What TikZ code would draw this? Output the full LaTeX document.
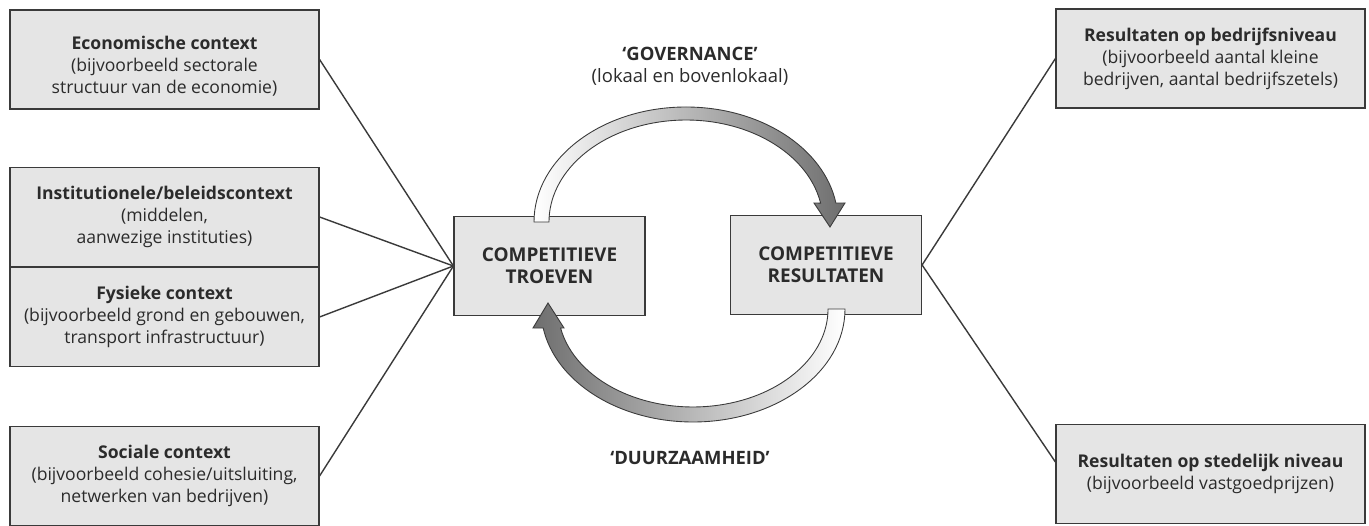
\documentclass[tikz,border=0pt]{standalone}
\usepackage{fontspec}
\setmainfont{Open Sans}
\usetikzlibrary{positioning}
\definecolor{boxgrey}{HTML}{E5E5E5}
\definecolor{linegrey}{HTML}{3A3A3A}
\definecolor{inkgrey}{HTML}{2B2B2B}
\definecolor{headgrey}{HTML}{6E6E6E}

\tikzset{
  ctxbox/.style={draw=linegrey, line width=0.7pt, fill=boxgrey, text=inkgrey,
    minimum width=6.18cm, minimum height=1.98cm, inner sep=0pt, align=center,
    font=\fontsize{10}{12.5}\selectfont},
  corebox/.style={ctxbox, minimum width=3.82cm, minimum height=1.98cm,
    font=\fontsize{10.8}{12.5}\selectfont\bfseries},
  link/.style={draw=linegrey, line width=0.8pt},
  loopshape/.style={draw=linegrey, line width=0.5pt},
  tag/.style={text=inkgrey, align=center, font=\fontsize{10.5}{12.5}\selectfont}
}

\begin{document}
\begin{tikzpicture}[x=0.02cm, y=-0.02cm]
  \useasboundingbox (0,0) rectangle (1369,526);

  % contexten links
  \node[ctxbox, text height=40.5pt] (eco) at (164.5,59.5) {\textbf{Economische context}\\(bijvoorbeeld sectorale\\structuur van de economie)};
  \node[ctxbox] (inst) at (164.5,217) {\textbf{Institutionele/beleidscontext}\\(middelen,\\aanwezige instituties)};
  \node[ctxbox] (fys) at (164.5,317) {\textbf{Fysieke context}\\(bijvoorbeeld grond en gebouwen,\\transport infrastructuur)};
  \node[ctxbox] (soc) at (164.5,476) {\textbf{Sociale context}\\(bijvoorbeeld cohesie/uitsluiting,\\netwerken van bedrijven)};

  % kern
  \node[corebox] (troef) at (549.5,266) {COMPETITIEVE\\TROEVEN};
  \node[corebox] (resul) at (826,265) {COMPETITIEVE\\RESULTATEN};

  % resultaten rechts
  \node[ctxbox] (bedr) at (1210.5,58.5) {\textbf{Resultaten op bedrijfsniveau}\\(bijvoorbeeld aantal kleine\\bedrijven, aantal bedrijfszetels)};
  \node[ctxbox] (sted) at (1210.5,474) {\textbf{Resultaten op stedelijk niveau}\\(bijvoorbeeld vastgoedprijzen)};

  \foreach \src in {eco,inst,fys,soc}
    \draw[link] (\src.east) -- (troef.west);
  \draw[link] (resul.east) -- (bedr.west);
  \draw[link] (resul.east) -- ([yshift=0.24cm]sted.west);

  % governance-lus
  \path[loopshape, left color=white, right color=headgrey]
    (534,222) arc[start angle=180, end angle=350.5, x radius=152, y radius=115]
    -- (845,203) -- (830,227) -- (814,203)
    -- (820.6,203.1) arc[start angle=349.3, end angle=180, x radius=137, y radius=102]
    -- cycle;
  % duurzaamheid-lus
  \path[loopshape, right color=white, left color=headgrey]
    (845,309) arc[start angle=0, end angle=170.3, x radius=152, y radius=113]
    -- (533,328) -- (548,303) -- (564,328)
    -- (560.6,328) arc[start angle=168.8, end angle=0, x radius=135, y radius=98]
    -- cycle;

  \node[tag] (gov) at (690,66) {\textbf{‘GOVERNANCE’}\\(lokaal en bovenlokaal)};
  \node[tag] (duur) at (690,458) {\textbf{‘DUURZAAMHEID’}};
\end{tikzpicture}
\end{document}
